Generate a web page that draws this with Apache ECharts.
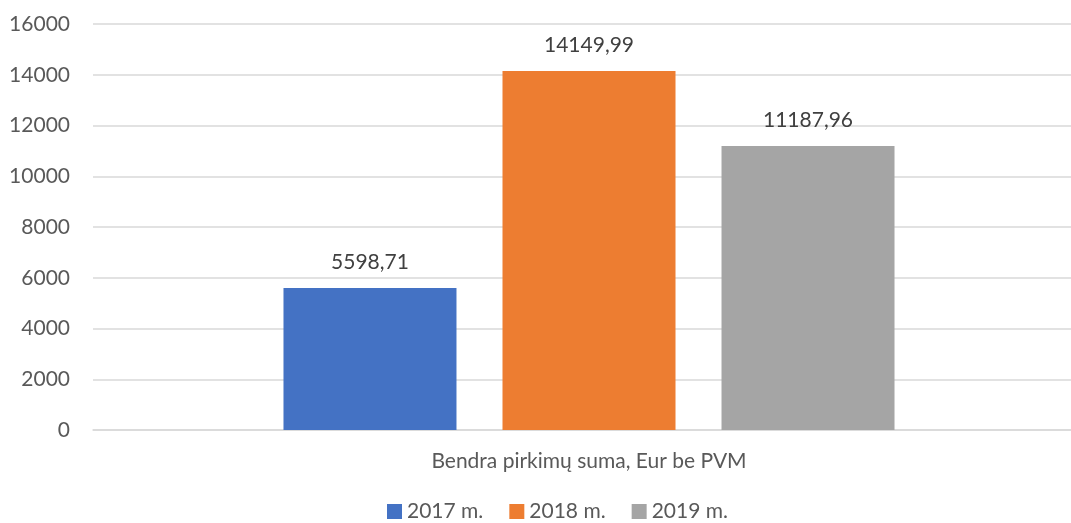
<!DOCTYPE html>
<html>
<head>
<meta charset="utf-8">
<script src="https://cdn.jsdelivr.net/npm/echarts@6/dist/echarts.min.js"></script>
<style>
  html, body { margin: 0; padding: 0; background: #fff; }
  #main { width: 1071px; height: 523px; }
</style>
</head>
<body>
<div id="main"></div>
<script>
// duomenys
var categories = ['Bendra pirkimų suma, Eur be PVM'];
var seriesNames = ['2017 m.', '2018 m.', '2019 m.'];
var seriesValues = [[5598.71], [14149.99], [11187.96]];
var colors = ['#4472C4', '#ED7D31', '#A5A5A5'];
var yTicks = { min: 0, max: 16000, interval: 2000 };

var chart = echarts.init(document.getElementById('main'));
var font = 'Lato, "Liberation Sans", sans-serif';

function fmt(v) {
  return v.toFixed(2).replace('.', ',');
}

var series = seriesNames.map(function (name, i) {
  return {
    name: name,
    type: 'bar',
    data: seriesValues[i],
    barWidth: 173,
    barGap: '26.6%',
    itemStyle: { color: colors[i] },
    label: {
      show: true,
      position: 'top',
      distance: 15,
      color: '#404040',
      fontSize: 21,
      fontFamily: font,
      formatter: function (p) { return fmt(p.value); }
    }
  };
});

var option = {
  animation: false,
  color: colors,
  textStyle: { fontFamily: font },
  grid: {
    left: 93,
    width: 992,
    top: 24,
    bottom: 93,
    containLabel: false,
    outerBoundsMode: 'none'
  },
  legend: {
    top: 496,
    left: 382,
    itemWidth: 15,
    itemHeight: 15,
    itemGap: 26,
    icon: 'rect',
    textStyle: { color: '#595959', fontSize: 21, fontFamily: font },
    data: seriesNames
  },
  xAxis: {
    type: 'category',
    data: categories,
    axisTick: { show: false },
    axisLine: { lineStyle: { color: '#D9D9D9', width: 1.5 } },
    axisLabel: { color: '#595959', fontSize: 21, fontFamily: font, margin: 21 }
  },
  yAxis: {
    type: 'value',
    min: yTicks.min,
    max: yTicks.max,
    interval: yTicks.interval,
    axisLine: { show: false },
    axisTick: { show: false },
    splitLine: { lineStyle: { color: '#D9D9D9', width: 1.5 } },
    axisLabel: {
      color: '#595959', fontSize: 21, fontFamily: font, margin: 23,
      formatter: function (v) { return String(v); }
    }
  },
  series: series
};

chart.setOption(option);
</script>
</body>
</html>
